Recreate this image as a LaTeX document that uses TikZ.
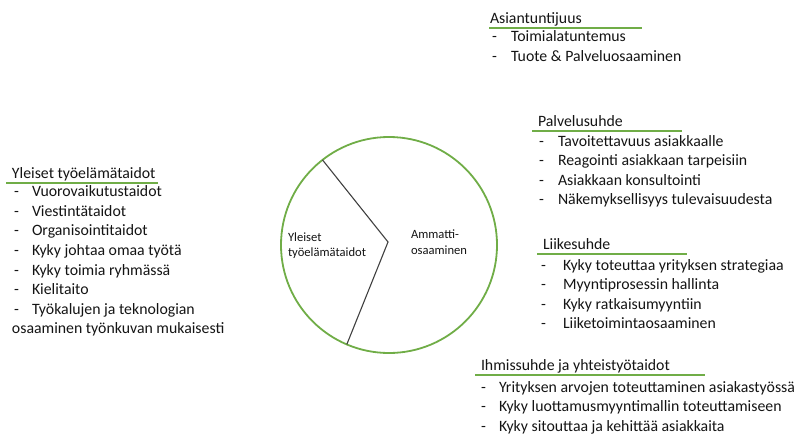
\documentclass[tikz,border=0pt]{standalone}
\usepackage{fontspec}
\setmainfont{Carlito}
\definecolor{leaf}{RGB}{112,173,71}
\definecolor{ink}{RGB}{20,20,20}
\definecolor{spoke}{RGB}{64,64,64}
\begin{document}
\begin{tikzpicture}[x=1pt,y=-1pt,
  every node/.style={inner sep=0pt, outer sep=0pt, text=ink},
  txt/.style={anchor=base west, font=\fontsize{15.8}{19}\selectfont},
  small/.style={anchor=base west, font=\fontsize{12.6}{14}\selectfont},
  rule/.style={draw=leaf, line width=1.1pt},
  wheelstyle/.style={circle, draw=leaf, line width=1.8pt, minimum size=216pt},
  spokestyle/.style={draw=spoke, line width=1.1pt}]
\useasboundingbox (0,0) rectangle (802,434);

% central circle split into two sectors
\node[wheelstyle] (wheel) at (389,245) {};
\coordinate (hub) at (388,242);
\draw[spokestyle] (wheel.128.5) -- (hub) -- (wheel.247);
\node[small] (yl1) at (288,241) {Yleiset};
\node[small] (yl2) at (288,256) {työelämätaidot};
\node[small] (am1) at (411,238) {Ammatti-};
\node[small] (am2) at (411,254) {osaaminen};

% Yleiset työelämätaidot
\node[txt] (hYl) at (12,178.3) {Yleiset työelämätaidot};
\draw[rule] (6,183) -- (158,183);
\foreach \t [count=\i] in {Vuorovaikutustaidot, Viestintätaidot, Organisointitaidot,
  Kyky johtaa omaa työtä, Kyky toimia ryhmässä, Kielitaito, Työkalujen ja teknologian}
  {\node[txt] (dY\i) at (14,196.7+19.6*\i-19.6) {-};
   \node[txt] (iY\i) at (32,196.7+19.6*\i-19.6) {\t};}
\node[txt] (iY8) at (12,196.7+19.6*7) {osaaminen työnkuvan mukaisesti};

% Asiantuntijuus
\node[txt] (hAs) at (490,23.3) {Asiantuntijuus};
\draw[rule] (489,28) -- (642,28);
\foreach \t [count=\i] in {Toimialatuntemus, Tuote \& Palveluosaaminen}
  {\node[txt] (dA\i) at (492,41.7+19.6*\i-19.6) {-};
   \node[txt] (iA\i) at (511,41.7+19.6*\i-19.6) {\t};}

% Palvelusuhde
\node[txt] (hPa) at (538,126.7) {Palvelusuhde};
\draw[rule] (532,131) -- (682,131);
\foreach \t [count=\i] in {Tavoitettavuus asiakkaalle, Reagointi asiakkaan tarpeisiin,
  Asiakkaan konsultointi, Näkemyksellisyys tulevaisuudesta}
  {\node[txt] (dP\i) at (539,146+19.6*\i-19.6) {-};
   \node[txt] (iP\i) at (558,146+19.6*\i-19.6) {\t};}

% Liikesuhde
\node[txt] (hLi) at (543,249.3) {Liikesuhde};
\draw[rule] (537,254) -- (687,254);
\foreach \t [count=\i] in {Kyky toteuttaa yrityksen strategiaa, Myyntiprosessin hallinta,
  Kyky ratkaisumyyntiin, Liiketoimintaosaaminen}
  {\node[txt] (dL\i) at (541,270+19.6*\i-19.6) {-};
   \node[txt] (iL\i) at (563,270+19.6*\i-19.6) {\t};}

% Ihmissuhde ja yhteistyötaidot
\node[txt] (hIh) at (481,370.3) {Ihmissuhde ja yhteistyötaidot};
\draw[rule] (475,375) -- (705,375);
\foreach \t [count=\i] in {Yrityksen arvojen toteuttaminen asiakastyössä,
  Kyky luottamusmyyntimallin toteuttamiseen, Kyky sitouttaa ja kehittää asiakkaita}
  {\node[txt] (dI\i) at (481,392+19.6*\i-19.6) {-};
   \node[txt] (iI\i) at (499,392+19.6*\i-19.6) {\t};}
\end{tikzpicture}
\end{document}
